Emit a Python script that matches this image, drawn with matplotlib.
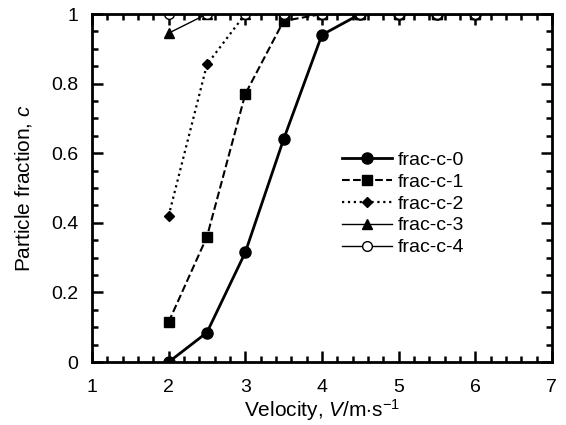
import matplotlib
matplotlib.use("Agg")
import matplotlib.pyplot as plt
from matplotlib.ticker import MultipleLocator

plt.rcParams['font.family'] = ['Liberation Sans', 'DejaVu Sans']
plt.rcParams['mathtext.fontset'] = 'custom'
plt.rcParams['mathtext.rm'] = 'Liberation Sans'
plt.rcParams['mathtext.it'] = 'Liberation Sans:italic'

velocity = [2.0, 2.5, 3.0, 3.5, 4.0, 4.5, 5.0, 5.5, 6.0]
frac_c_0 = [0.0, 0.085, 0.315, 0.64, 0.94, 1.0, 1.0, 1.0, 1.0]
frac_c_1 = [0.115, 0.36, 0.77, 0.98, 1.0, 1.0, 1.0, 1.0, 1.0]
frac_c_2 = [0.42, 0.855, 1.0, 1.0, 1.0, 1.0, 1.0, 1.0, 1.0]
frac_c_3 = [0.945, 1.0, 1.0, 1.0, 1.0, 1.0, 1.0, 1.0, 1.0]
frac_c_4 = [1.0, 1.0, 1.0, 1.0, 1.0, 1.0, 1.0, 1.0, 1.0]
labels = ['frac-c-0', 'frac-c-1', 'frac-c-2', 'frac-c-3', 'frac-c-4']

fig = plt.figure(figsize=(5.66, 4.25), dpi=100)
ax = fig.add_axes([0.1625, 0.148, 0.8125, 0.819])

ax.plot(velocity, frac_c_0, '-', color='black', lw=2.0, marker='o', ms=8, label=labels[0])
ax.plot(velocity, frac_c_1, '--', color='black', lw=1.5, marker='s', ms=6.5, label=labels[1])
ax.plot(velocity, frac_c_2, ':', color='black', lw=1.6, marker='D', ms=5, label=labels[2])
ax.plot(velocity, frac_c_3, '-', color='black', lw=1.0, marker='^', ms=7, label=labels[3])
ax.plot(velocity, frac_c_4, '-', color='black', lw=1.0, marker='o', ms=7, mfc='white', label=labels[4])

ax.set_xlim(1, 7)
ax.set_ylim(0, 1)
ax.xaxis.set_major_locator(MultipleLocator(1))
ax.xaxis.set_minor_locator(MultipleLocator(0.2))
ax.set_yticks([0, 0.2, 0.4, 0.6, 0.8, 1.0])
ax.set_yticklabels(['0', '0.2', '0.4', '0.6', '0.8', '1'])
ax.yaxis.set_minor_locator(MultipleLocator(0.05))

for s in ax.spines.values():
    s.set_linewidth(2.0)
ax.tick_params(which='both', direction='in', top=True, right=True, width=1.8)
ax.tick_params(which='major', length=8, labelsize=14)
ax.tick_params(which='minor', length=4)
ax.tick_params(axis='x', pad=12)
ax.tick_params(axis='y', pad=10)

ax.set_xlabel(r'Velocity, $\mathit{V}$/m$\cdot$s$^{-1}$', fontsize=15, labelpad=1)
ax.set_ylabel(r'Particle fraction, $\mathit{c}$', fontsize=15, labelpad=12)

ax.legend(loc='center left', bbox_to_anchor=(0.505, 0.455), frameon=False,
          fontsize=14, handlelength=2.6, handletextpad=0.3, labelspacing=0.22)

fig.savefig('out.png', dpi=100)
